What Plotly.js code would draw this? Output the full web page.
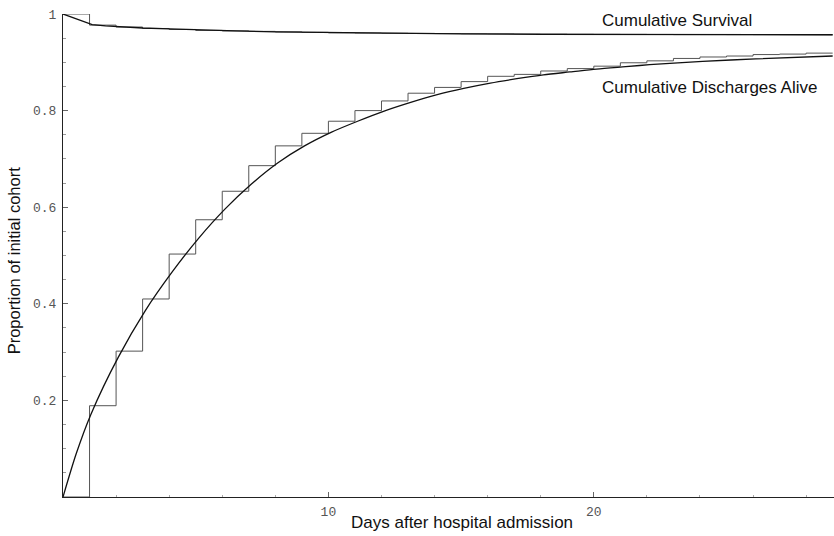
<!DOCTYPE html>
<html>
<head>
<meta charset="utf-8">
<script src="https://cdn.plot.ly/plotly-3.0.1.min.js"></script>
<style>html,body{margin:0;padding:0;background:#fff;}#chart{width:834px;height:536px;}</style>
</head>
<body>
<div id="chart"></div>
<script>
// Days after admission (step positions)
const stepDays = [0,1,2,3,4,5,6,7,8,9,10,11,12,13,14,15,16,17,18,19,20,21,22,23,24,25,26,27,28,29];
// Observed cumulative discharges alive (step function)
const dischargeStep = [0,0.189,0.302,0.410,0.503,0.574,0.633,0.686,0.727,0.753,0.778,0.800,0.820,0.836,0.848,0.860,0.871,0.875,0.882,0.887,0.892,0.899,0.903,0.908,0.911,0.913,0.916,0.917,0.919,0.919];
// Observed cumulative survival (step function)
const survivalStep = [1,0.977,0.973,0.970,0.968,0.966,0.965,0.964,0.963,0.962,0.961,0.9605,0.960,0.9597,0.9595,0.9592,0.959,0.9587,0.9585,0.9582,0.958,0.9578,0.9576,0.9574,0.9573,0.9572,0.9571,0.957,0.957,0.957];
// Fitted cumulative discharges alive (smooth curve)
const dischargeFitX = [0,0.5,1.05,2.08,3.09,4.1,5.1,6.1,7.1,8.1,9.1,10.1,11.1,12.1,13.1,14.1,15.1,16.1,17.1,18.1,19.1,20.1,21.2,22.1,24.1,26.1,29];
const dischargeFitY = [0,0.090,0.171,0.289,0.385,0.465,0.535,0.596,0.648,0.692,0.727,0.755,0.778,0.799,0.817,0.833,0.846,0.857,0.866,0.874,0.880,0.886,0.891,0.895,0.902,0.907,0.913];
// Fitted cumulative survival (smooth curve)
const survivalFitX = [0,1.1,1.6,2,3,4,5,6.5,8,10,12,15,18,23,29];
const survivalFitY = [1,0.978,0.9755,0.974,0.971,0.969,0.967,0.965,0.963,0.9615,0.960,0.959,0.958,0.9575,0.957];
// Tick labels
const xTickVals = [10,20];
const xTickText = ["10","20"];
const yTickVals = [0.2,0.4,0.6,0.8,1];
const yTickText = ["0.2","0.4","0.6","0.8","1"];

const traces = [
  {x: stepDays, y: survivalStep, mode:'lines', line:{shape:'hv', color:'#555', width:1}, cliponaxis:false, hoverinfo:'none'},
  {x: survivalFitX, y: survivalFitY, mode:'lines', line:{shape:'linear', color:'#111', width:1.3}, cliponaxis:false, hoverinfo:'none'},
  {x: stepDays, y: dischargeStep, mode:'lines', line:{shape:'hv', color:'#555', width:1}, cliponaxis:false, hoverinfo:'none'},
  {x: dischargeFitX, y: dischargeFitY, mode:'lines', line:{shape:'spline', smoothing:0.8, color:'#111', width:1.3}, cliponaxis:false, hoverinfo:'none'}
];

const tickFont = {family:'"Liberation Mono", "DejaVu Sans Mono", monospace', size:13, color:'#555'};
const titleFont = {family:'"Liberation Sans", Arial, sans-serif', size:17, color:'#111'};
const layout = {
  width:834, height:536,
  margin:{l:63, r:0, t:14, b:39, pad:0},
  paper_bgcolor:'#fff', plot_bgcolor:'#fff',
  showlegend:false,
  xaxis:{
    range:[0,29.05], showgrid:false, zeroline:false,
    showline:true, linecolor:'#222', linewidth:1,
    tickmode:'array', tickvals:xTickVals, ticktext:xTickText,
    ticks:'inside', ticklen:5, tickcolor:'#666', tickfont:tickFont,
    ticklabelstandoff:2,
    minor:{dtick:2, tick0:0, ticks:'inside', ticklen:2, tickcolor:'#aaa'}
  },
  yaxis:{
    range:[0,1], showgrid:false, zeroline:false,
    showline:true, linecolor:'#222', linewidth:1,
    tickmode:'array', tickvals:yTickVals, ticktext:yTickText,
    ticks:'inside', ticklen:5, tickcolor:'#666', tickfont:tickFont,
    ticklabelposition:'outside', ticklabelstandoff:3,
    minor:{dtick:0.05, tick0:0, ticks:'inside', ticklen:3, tickcolor:'#999'}
  },
  annotations:[
    {xref:'paper', yref:'paper', x:0.5175, y:0, xanchor:'center', yanchor:'middle', yshift:-25, text:'Days after hospital admission', showarrow:false, font:titleFont},
    {xref:'paper', yref:'paper', x:0, y:0.49, xanchor:'center', yanchor:'middle', xshift:-49, textangle:-90, text:'Proportion of initial cohort', showarrow:false, font:{family:'"Liberation Sans", Arial, sans-serif', size:16.5, color:'#111'}},
    {xref:'paper', yref:'paper', x:0.697, y:1.0, xanchor:'left', yanchor:'middle', yshift:-6, text:'Cumulative Survival', showarrow:false, font:titleFont},
    {xref:'paper', yref:'paper', x:0.697, y:0.847, xanchor:'left', yanchor:'middle', text:'Cumulative Discharges Alive', showarrow:false, font:titleFont}
  ]
};

Plotly.newPlot('chart', traces, layout, {staticPlot:true, displayModeBar:false});
</script>
</body>
</html>
